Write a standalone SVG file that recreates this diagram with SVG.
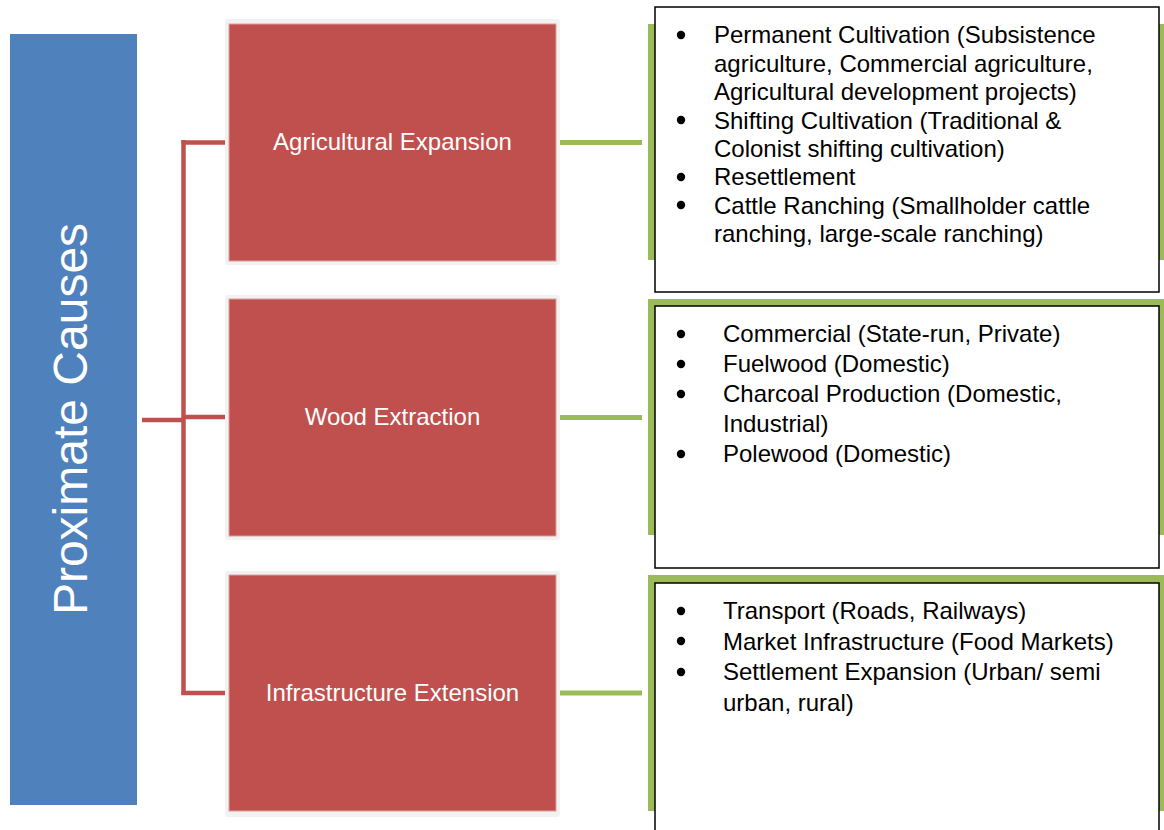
<svg xmlns="http://www.w3.org/2000/svg" width="1164" height="830" viewBox="0 0 1164 830">
<style>
  .halo { fill: #F2F2F2; }
  .red { fill: #C0504D; stroke: #D9A09E; stroke-width: 1; }
  .lbl { font-family: "Liberation Sans", Arial, sans-serif; font-size: 24px; fill: #FFFFFF; text-anchor: middle; }
  .title { font-family: "Liberation Sans", Arial, sans-serif; font-size: 48px; fill: #FFFFFF; text-anchor: middle; }
  .green { fill: #9BBB59; }
  .box { fill: #FFFFFF; stroke: #000000; stroke-width: 1.5; }
  .txt { font-family: "Liberation Sans", Arial, sans-serif; font-size: 24px; fill: #000000; }
  .dot { fill: #000000; }
  .rc { stroke: #C0504D; stroke-width: 4.5; fill: none; }
  .gc { stroke: #9BBB59; stroke-width: 5; fill: none; }
</style>
<rect width="1164" height="830" fill="#FFFFFF"/>

<g id="proximate-causes">
  <rect x="10" y="34" width="127" height="771" fill="#4F81BD"/>
  <text class="title" transform="translate(87,419) rotate(-90)">Proximate Causes</text>
</g>

<g id="connectors">
  <path class="rc" d="M183.5,140 V695"/>
  <path class="rc" d="M181.5,142.5 H225"/>
  <path class="rc" d="M142,420 H183.5"/>
  <path class="rc" d="M183.5,417 H225"/>
  <path class="rc" d="M181.5,693 H225"/>
  <path class="gc" d="M560,142.5 H642"/>
  <path class="gc" d="M560,417.5 H642"/>
  <path class="gc" d="M560,693 H642"/>
</g>

<g id="agricultural-expansion">
  <rect class="halo" x="225" y="19" width="335" height="246" rx="3"/>
  <rect class="red" x="229" y="24" width="327" height="237"/>
  <text class="lbl" x="392.5" y="149.5">Agricultural Expansion</text>
</g>

<g id="wood-extraction">
  <rect class="halo" x="225" y="295" width="335" height="245" rx="3"/>
  <rect class="red" x="229" y="299" width="327" height="237"/>
  <text class="lbl" x="392.5" y="425">Wood Extraction</text>
</g>

<g id="infrastructure-extension">
  <rect class="halo" x="225" y="571" width="335" height="246" rx="3"/>
  <rect class="red" x="229" y="575" width="327" height="236"/>
  <text class="lbl" x="392.5" y="700.5">Infrastructure Extension</text>
</g>

<g id="agricultural-details">
  <rect class="green" x="648" y="24" width="516" height="236"/>
  <rect class="box" x="655" y="7" width="504" height="285"/>
  <circle class="dot" cx="681" cy="35" r="4.2"/>
  <circle class="dot" cx="681" cy="120" r="4.2"/>
  <circle class="dot" cx="681" cy="177" r="4.2"/>
  <circle class="dot" cx="681" cy="205" r="4.2"/>
  <text class="txt" x="714" y="43">Permanent Cultivation (Subsistence</text>
  <text class="txt" x="714" y="71.5">agriculture, Commercial agriculture,</text>
  <text class="txt" x="714" y="100">Agricultural development projects)</text>
  <text class="txt" x="714" y="128.5">Shifting Cultivation (Traditional &amp;</text>
  <text class="txt" x="714" y="157">Colonist shifting cultivation)</text>
  <text class="txt" x="714" y="185">Resettlement</text>
  <text class="txt" x="714" y="213.5">Cattle Ranching (Smallholder cattle</text>
  <text class="txt" x="714" y="242">ranching, large-scale ranching)</text>
</g>

<g id="wood-details">
  <rect class="green" x="648" y="299" width="516" height="236"/>
  <rect class="box" x="655" y="306" width="504" height="262"/>
  <circle class="dot" cx="681" cy="334" r="4.2"/>
  <circle class="dot" cx="681" cy="364" r="4.2"/>
  <circle class="dot" cx="681" cy="394" r="4.2"/>
  <circle class="dot" cx="681" cy="454" r="4.2"/>
  <text class="txt" x="723" y="342">Commercial (State-run, Private)</text>
  <text class="txt" x="723" y="372">Fuelwood (Domestic)</text>
  <text class="txt" x="723" y="402">Charcoal Production (Domestic,</text>
  <text class="txt" x="723" y="432">Industrial)</text>
  <text class="txt" x="723" y="462">Polewood (Domestic)</text>
</g>

<g id="infrastructure-details">
  <rect class="green" x="648" y="575" width="516" height="236"/>
  <rect class="box" x="655" y="583" width="504" height="270"/>
  <circle class="dot" cx="681" cy="611" r="4.2"/>
  <circle class="dot" cx="681" cy="641" r="4.2"/>
  <circle class="dot" cx="681" cy="672" r="4.2"/>
  <text class="txt" x="723" y="619">Transport (Roads, Railways)</text>
  <text class="txt" x="723" y="649.5">Market Infrastructure (Food Markets)</text>
  <text class="txt" x="723" y="680">Settlement Expansion (Urban/ semi</text>
  <text class="txt" x="723" y="710.5">urban, rural)</text>
</g>
</svg>
